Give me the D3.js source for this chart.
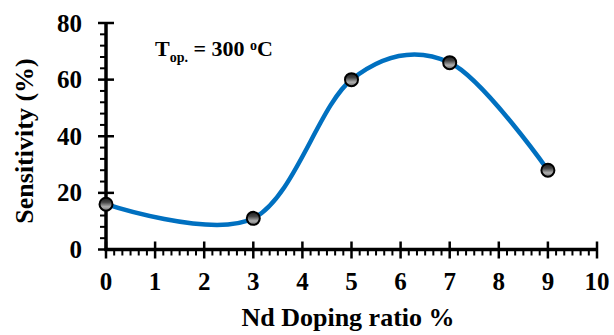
<!DOCTYPE html>
<html>
<head>
<meta charset="utf-8">
<script src="https://cdn.jsdelivr.net/npm/d3@7"></script>
<style>
  html, body { margin: 0; padding: 0; background: #fff; }
  svg { display: block; font-family: "Liberation Serif", "Times New Roman", serif; font-weight: bold; }
</style>
</head>
<body>
<svg id="chart" width="614" height="335"></svg>
<script>
// Nd doping ratio (%) vs. sensitivity (%) at 300 °C
const dopingRatio = [0, 3, 5, 7, 9];
const sensitivity = [16, 11, 60, 66, 28];
const xTicks = [0, 1, 2, 3, 4, 5, 6, 7, 8, 9, 10];
const yTicks = [0, 20, 40, 60, 80];

const svg = d3.select("#chart");
const x = d3.scaleLinear().domain([0, 10]).range([106, 597]);
const y = d3.scaleLinear().domain([0, 80]).range([249.5, 23]);

// marker fill gradient
const defs = svg.append("defs");
const grad = defs.append("linearGradient").attr("id", "dotFill")
  .attr("x1", 0).attr("y1", 0).attr("x2", 0).attr("y2", 1);
grad.append("stop").attr("offset", "0%").attr("stop-color", "#1a1a1a");
grad.append("stop").attr("offset", "35%").attr("stop-color", "#444");
grad.append("stop").attr("offset", "70%").attr("stop-color", "#b0b0b0");
grad.append("stop").attr("offset", "100%").attr("stop-color", "#6a6a6a");

// minor ticks
const xMinor = d3.range(0, 60).map(i => i / 6).filter(v => Math.abs(v - Math.round(v)) > 1e-6);
const yMinor = d3.range(0, 80, 4).filter(v => v % 20 !== 0);

const axisG = svg.append("g").attr("stroke", "#000");
axisG.selectAll("line.xminor").data(xMinor).join("line")
  .attr("x1", d => x(d)).attr("x2", d => x(d))
  .attr("y1", y(0)).attr("y2", y(0) + 6).attr("stroke-width", 2);
axisG.selectAll("line.xmajor").data(xTicks).join("line")
  .attr("x1", d => x(d)).attr("x2", d => x(d))
  .attr("y1", y(0) - 8).attr("y2", y(0) + 9).attr("stroke-width", 2.5);
axisG.selectAll("line.yminor").data(yMinor).join("line")
  .attr("x1", x(0) - 6).attr("x2", x(0))
  .attr("y1", d => y(d)).attr("y2", d => y(d)).attr("stroke-width", 2);
axisG.selectAll("line.ymajor").data(yTicks).join("line")
  .attr("x1", x(0) - 8).attr("x2", x(0) + 8)
  .attr("y1", d => y(d)).attr("y2", d => y(d)).attr("stroke-width", 2.5);
// axis lines
axisG.append("line").attr("x1", x(0)).attr("x2", x(0)).attr("y1", y(80)).attr("y2", y(0) + 1.5).attr("stroke-width", 3.5);
axisG.append("line").attr("x1", x(0) - 1.5).attr("x2", x(10)).attr("y1", y(0)).attr("y2", y(0)).attr("stroke-width", 3.5);

// tick labels
svg.append("g").selectAll("text").data(xTicks).join("text")
  .attr("x", d => x(d)).attr("y", 290).attr("text-anchor", "middle")
  .attr("font-size", 25).text(d => d);
svg.append("g").selectAll("text").data(yTicks).join("text")
  .attr("x", 82).attr("y", d => y(d) + 8.5).attr("text-anchor", "end")
  .attr("font-size", 25).text(d => d);

// axis titles
svg.append("text").attr("x", 348).attr("y", 326).attr("text-anchor", "middle")
  .attr("font-size", 26).text("Nd Doping ratio %");
svg.append("text").attr("transform", "translate(33,141) rotate(-90)").attr("text-anchor", "middle")
  .attr("font-size", 26).text("Sensitivity (%)");

// operating temperature note
const note = svg.append("text").attr("x", 155).attr("y", 56).attr("font-size", 22);
note.append("tspan").text("T");
note.append("tspan").attr("font-size", 14).attr("dy", 6).text("op.");
note.append("tspan").attr("dy", -6).text(" = 300 ");
note.append("tspan").attr("font-size", 14).attr("dy", -6).text("o");
note.append("tspan").attr("dy", 6).text("C");

// smoothed curve
const pts = dopingRatio.map((d, i) => [d, sensitivity[i]]);
svg.append("path").datum(pts)
  .attr("d", d3.line().x(d => x(d[0])).y(d => y(d[1])).curve(d3.curveCardinal.tension(0)))
  .attr("fill", "none").attr("stroke", "#0070C0").attr("stroke-width", 4.5);

// data markers
svg.append("g").selectAll("circle").data(pts).join("circle")
  .attr("cx", d => x(d[0])).attr("cy", d => y(d[1])).attr("r", 6.5)
  .attr("fill", "url(#dotFill)").attr("stroke", "#000").attr("stroke-width", 2);
</script>
</body>
</html>
